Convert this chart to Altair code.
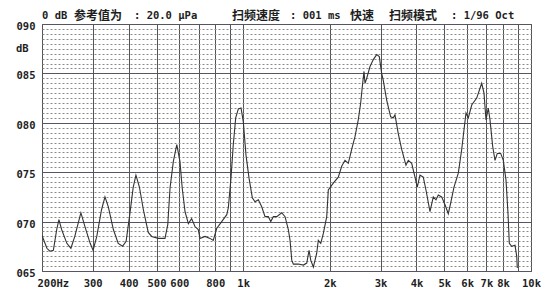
import altair as alt
import pandas as pd

# Frequency response trace (Hz, dB)
freq = [200,208,213,219,225,229,234,244,252,260,
        273,282,294,301,310,322,331,340,354,368,
        381,392,404,415,424,436,450,468,481,507,
        535,547,557,572,588,603,614,628,645,662,
        680,698,708,737,767,787,809,842,877,888,
        907,924,942,962,983,1001,1023,1048,1076,1099,
        1129,1160,1191,1223,1247,1273,1308,1361,1398,1435,
        1455,1475,1494,1555,1618,1663,1694,1717,1753,1801,
        1824,1860,1899,1951,1976,2056,2140,2199,2258,2319,
        2382,2446,2511,2560,2601,2629,2650,2686,2758,2832,
        2910,2971,3028,3067,3152,3254,3323,3368,3458,3554,
        3678,3747,3850,3953,4026,4114,4224,4316,4457,4576,
        4676,4763,4894,5026,5160,5261,5401,5590,5744,5851,
        5945,6056,6223,6477,6650,6741,6866,6977,7106,7204,
        7361,7498,7637,7847,8013,8188,8320,8407,8570,8800,
        8920,8963]
level = [68.6,67.3,67.0,67.1,69.2,70.2,69.2,67.8,67.3,68.5,
         70.9,69.5,67.8,67.1,68.5,71.2,72.5,71.5,69.2,67.8,
         67.5,68.0,70.8,73.5,74.7,73.5,71.2,68.9,68.5,68.3,
         68.3,69.7,73.4,76.1,77.8,76.1,73.4,71.0,69.8,70.3,
         69.5,69.2,68.3,68.5,68.3,68.1,69.3,70.0,70.7,71.4,
         74.4,77.8,80.5,81.4,81.5,80.1,76.7,74.4,72.4,72.0,
         72.2,71.5,70.5,70.5,70.0,70.5,70.5,70.9,70.5,69.2,
         68.1,66.1,65.7,65.7,65.6,65.8,67.1,66.1,65.4,66.8,
         68.1,67.8,68.8,70.5,73.2,73.9,74.5,75.6,76.2,75.9,
         77.3,78.6,80.3,82.0,84.0,85.2,84.0,84.5,85.7,86.4,
         86.9,86.7,85.0,84.3,82.3,80.6,80.5,80.8,78.9,77.3,
         75.7,76.2,75.9,74.5,73.5,74.7,74.5,73.2,71.0,72.5,
         72.2,72.7,72.5,71.7,70.8,71.9,73.5,74.9,77.3,79.3,
         81.0,80.5,81.8,82.5,83.5,84.0,83.0,80.3,81.5,80.3,
         77.6,76.2,76.9,76.9,76.2,74.2,70.8,67.8,67.5,67.6,
         66.5,65.3]

x_grid = [200,300,400,500,600,700,800,900,1000,2000,3000,4000,5000,6000,7000,8000,9000,10000]
x_label_vals = [200,300,400,500,600,800,1000,2000,3000,4000,5000,6000,7000,8000,10000]
x_label_txt = ["200Hz","300","400","500","600","800","1k","2k","3k","4k","5k","6k","7k","8k","10k"]
y_grid = [65 + 0.5 * i for i in range(51)]

header = [
    ("0 dB", 0, "mono"),
    ("参考值为", 32, "cjk"),
    (": 20.0 μPa", 92, "mono"),
    ("扫频速度", 190, "cjk"),
    (": 001 ms", 248, "mono"),
    ("快速", 308, "cjk"),
    ("扫频模式", 347, "cjk"),
    (": 1/96  Oct", 409, "mono"),
]

MONO = "DejaVu Sans Mono"
CJK = "Noto Sans CJK SC"
INK = "#1e1e1e"

expr = "''"
for v, t in reversed(list(zip(x_label_vals, x_label_txt))):
    expr = f"datum.value == {v} ? '{t}' : ({expr})"

df = pd.DataFrame({"freq": freq, "level": level})

line = alt.Chart(df).mark_line(color="#333333", strokeWidth=1.1, clip=True).encode(
    x=alt.X("freq:Q",
            scale=alt.Scale(type="log", domain=[200, 10000], nice=False),
            axis=alt.Axis(values=x_grid, labelExpr=expr, title=None, ticks=False,
                          domain=False, grid=True, gridColor="#555555", gridWidth=1,
                          labelFont=MONO, labelFontSize=10.5, labelFontWeight="bold",
                          labelColor=INK, labelPadding=7, labelOverlap=False,
                          labelAlign={"condition": {"test": "datum.value <= 200", "value": "left"},
                                      "value": "center"},
                          labelOffset={"condition": {"test": "datum.value <= 200", "value": -5},
                                       "value": 0})),
    y=alt.Y("level:Q",
            scale=alt.Scale(domain=[65, 90], nice=False, zero=False),
            axis=alt.Axis(values=y_grid, title=None, ticks=False, domain=False, grid=True,
                          labelExpr="datum.value % 5 == 0 ? format(datum.value, '03d') : ''",
                          labelFont=MONO, labelFontSize=10.5, labelFontWeight="bold",
                          labelColor=INK, labelPadding=7, labelOverlap=False,
                          labelBaseline="middle", labelOffset=2.5,
                          gridColor={"condition": {"test": "datum.value % 5 == 0", "value": "#555566"},
                                     "value": "#8a8a8a"},
                          gridDash={"condition": {"test": "datum.value % 5 == 0", "value": []},
                                    "value": [2, 2]},
                          gridWidth=1)),
)

layers = [line]
for txt, xpos, kind in header:
    d = pd.DataFrame({"t": [txt]})
    if kind == "mono":
        m = alt.Chart(d).mark_text(font=MONO, fontSize=10.5, fontWeight="bold", align="left",
                                   baseline="middle", color=INK)
    else:
        m = alt.Chart(d).mark_text(font=CJK, fontSize=12, fontWeight="bold", align="left",
                                   baseline="middle", color=INK)
    layers.append(m.encode(x=alt.value(xpos), y=alt.value(-8), text="t:N"))

db = alt.Chart(pd.DataFrame({"t": ["dB"]})).mark_text(
    font=MONO, fontSize=10.5, fontWeight="bold", align="left", baseline="middle", color=INK
).encode(x=alt.value(-26), y=alt.value(24.5), text="t:N")
layers.append(db)

chart = alt.layer(*layers).properties(
    width=489, height=247,
    autosize=alt.AutoSizeParams(type="none"),
    padding={"left": 42, "top": 24, "right": 19, "bottom": 29},
    background="white",
).configure_view(stroke="#555555", strokeWidth=1)

chart.save("out.html", embed_options={"renderer": "svg", "actions": False})
